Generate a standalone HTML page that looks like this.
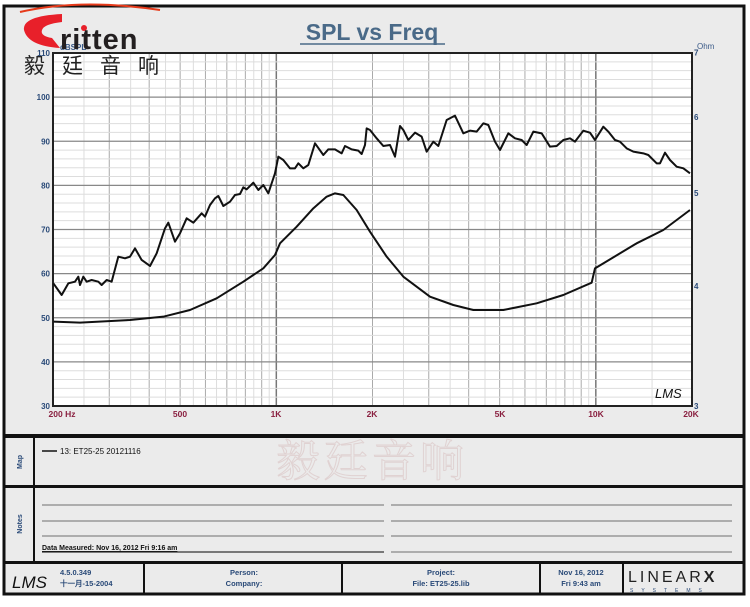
<!DOCTYPE html>
<html><head><meta charset="utf-8"><style>
body{margin:0;width:750px;height:602px;background:#fff;overflow:hidden;font-family:"Liberation Sans",sans-serif}
</style></head><body>
<svg id="s" width="750" height="602" xmlns="http://www.w3.org/2000/svg" font-family="Liberation Sans, sans-serif">
<rect x="0" y="0" width="750" height="602" fill="#fff"/>
<rect x="4" y="6" width="740" height="588" fill="#ebebeb" stroke="#111" stroke-width="3"/>
<rect x="53" y="53" width="639" height="353" fill="#fff"/>
<g id="grid"></g>
<rect x="53" y="53" width="639" height="353" fill="none" stroke="#222" stroke-width="2"/>
<text x="372" y="40" font-size="23" font-weight="bold" fill="#4a6a88" text-anchor="middle">SPL vs Freq</text>
<line x1="300" y1="44" x2="445" y2="44" stroke="#4a6a88" stroke-width="1.5"/>
<text x="697" y="49" font-size="8" fill="#3a5a88">Ohm</text>
<text x="60" y="50" font-size="8" fill="#3a5a88" font-weight="bold">dBSPL</text>
<g id="ylab" font-size="8" font-weight="bold" fill="#2a4a78" text-anchor="end"></g>
<g id="rlab" font-size="8" font-weight="bold" fill="#2a4a78"></g>
<g font-size="8.5" font-weight="bold" fill="#8a2040" text-anchor="middle">
<text x="62" y="417">200 Hz</text><text x="180" y="417">500</text><text x="276" y="417">1K</text><text x="372" y="417">2K</text><text x="500" y="417">5K</text><text x="596" y="417">10K</text><text x="691" y="417">20K</text></g>
<text x="655" y="398" font-size="13" font-style="italic" fill="#111">LMS</text>
<g transform="translate(30,100) scale(0.33333)" fill="none" stroke="#111" stroke-width="2" stroke-linejoin="round">
<polyline vector-effect="non-scaling-stroke" points="70,550 95,585 115,550 135,545 145,530 150,555 160,530 170,545 185,540 205,545 215,555 230,540 245,545 265,470 285,475 300,470 315,445 335,480 360,498 380,460 405,385 415,368 435,425 450,400 470,355 490,368 515,340 525,350 540,315 555,295 565,288 580,318 600,305 615,285 630,282 640,262 650,268 670,248 685,270 700,255 715,280 735,220 745,170 760,180 780,205 795,205 805,190 820,205 835,195 855,130 880,165 895,148 915,148 935,160 945,138 965,148 985,152 995,162 1005,135 1010,85 1020,90 1040,115 1060,138 1080,135 1095,170 1110,78 1120,90 1135,120 1155,98 1175,110 1190,155 1210,125 1225,138 1250,60 1275,47 1300,100 1320,92 1340,95 1360,70 1375,75 1395,125 1410,150 1435,100 1455,115 1475,120 1490,135 1510,95 1535,100 1560,140 1580,138 1600,120 1620,115 1635,125 1660,92 1680,98 1695,120 1720,80 1735,95 1755,120 1770,125 1790,145 1810,155 1840,160 1855,165 1880,190 1890,190 1905,158 1920,180 1940,200 1960,205 1980,220"/>
<polyline vector-effect="non-scaling-stroke" points="70,665 150,668 300,660 400,650 480,630 560,595 640,545 700,505 735,465 750,430 800,380 850,325 890,290 915,280 940,285 980,330 1020,395 1070,470 1120,530 1200,590 1270,615 1330,630 1420,630 1520,610 1600,585 1685,548 1695,505 1720,490 1820,430 1900,390 1980,330"/>
</g>
<!-- logo -->
<path d="M20 12 Q80 -2 160 10" stroke="#e63a1a" stroke-width="2" fill="none"/>
<path d="M62 14 Q22 16 24 30 Q28 46 60 48 L52 38 Q40 36 42 30 Q44 24 62 22 Z" fill="#e8202a"/>
<circle cx="84" cy="28" r="3" fill="#e8202a"/>
<text x="60" y="49" font-size="29" font-weight="bold" fill="#231f20" letter-spacing="1">ritten</text>
<text x="24" y="73" font-size="21" fill="#222" font-family="Noto Sans CJK SC, sans-serif" letter-spacing="17">毅廷音响</text>
<!-- bottom sections -->
<rect x="4" y="434" width="740" height="4" fill="#111"/>
<rect x="4" y="485" width="740" height="3" fill="#111"/>
<rect x="4" y="561" width="740" height="3" fill="#111"/>
<line x1="34" y1="436" x2="34" y2="562" stroke="#111" stroke-width="2"/>
<text transform="translate(22,462) rotate(-90)" font-size="7" font-weight="bold" fill="#2a4a78" text-anchor="middle">Map</text>
<text transform="translate(22,524) rotate(-90)" font-size="7" font-weight="bold" fill="#2a4a78" text-anchor="middle">Notes</text>
<line x1="42" y1="451" x2="57" y2="451" stroke="#111" stroke-width="1.5"/>
<text x="60" y="454" font-size="8" fill="#111">13: ET25-25 20121116</text>
<text x="372" y="476" font-size="44" fill="none" stroke="#e0d2d2" stroke-width="1" text-anchor="middle" font-family="Noto Serif CJK SC, serif" letter-spacing="4">毅廷音响</text>
<g stroke="#888" stroke-width="1.2">
<line x1="42" y1="505" x2="384" y2="505"/><line x1="391" y1="505" x2="732" y2="505"/>
<line x1="42" y1="521" x2="384" y2="521"/><line x1="391" y1="521" x2="732" y2="521"/>
<line x1="42" y1="536" x2="384" y2="536"/><line x1="391" y1="536" x2="732" y2="536"/>
<line x1="42" y1="552" x2="384" y2="552" stroke="#333"/><line x1="391" y1="552" x2="732" y2="552"/></g>
<text x="42" y="550" font-size="7" font-weight="bold" fill="#111" text-decoration="underline">Data Measured: Nov 16, 2012  Fri  9:16 am</text>
<g stroke="#111" stroke-width="2"><line x1="144" y1="563" x2="144" y2="594"/><line x1="342" y1="563" x2="342" y2="594"/><line x1="540" y1="563" x2="540" y2="594"/><line x1="623" y1="563" x2="623" y2="594"/></g>
<text x="12" y="588" font-size="17" font-style="italic" fill="#111">LMS</text>
<g font-size="7.5" font-weight="bold" fill="#2a4a78">
<text x="60" y="575">4.5.0.349</text><text x="60" y="586">十一月-15-2004</text>
<text x="244" y="575" text-anchor="middle">Person:</text><text x="244" y="586" text-anchor="middle">Company:</text>
<text x="441" y="575" text-anchor="middle">Project:</text><text x="441" y="586" text-anchor="middle">File: ET25-25.lib</text>
<text x="581" y="575" text-anchor="middle">Nov 16, 2012</text><text x="581" y="586" text-anchor="middle">Fri  9:43 am</text></g>
<text x="628" y="582" font-size="16" fill="#222" letter-spacing="3">LINEAR<tspan font-weight="bold">X</tspan></text>
<text x="630" y="592" font-size="5" fill="#2a4a78" letter-spacing="8">SYSTEMS</text>
</svg>
<script>
var ns="http://www.w3.org/2000/svg",g=document.getElementById('grid');
function L(x1,y1,x2,y2,c,w){var l=document.createElementNS(ns,'line');l.setAttribute('x1',x1);l.setAttribute('y1',y1);l.setAttribute('x2',x2);l.setAttribute('y2',y2);l.setAttribute('stroke',c);l.setAttribute('stroke-width',w);g.appendChild(l);}
function X(f){return 53+319.5*Math.log10(f/200);}
for(var d of [100,1000,10000]){for(var m=1;m<10;m+=0.5){var f=d*m;if(f<200||f>20000)continue;var x=X(f);var c=(m%1)?'#ddd':(m==1?'#777':'#aaa');L(x,53,x,406,c,(m==1)?1.5:1);}}
for(var v=30;v<=110;v+=2){var y=406-(v-30)*4.4125;L(53,y,692,y,v%10?'#ddd':'#888',v%10?1:1.3);}
var yl=document.getElementById('ylab');
for(var v=30;v<=110;v+=10){var t=document.createElementNS(ns,'text');t.setAttribute('x',50);t.setAttribute('y',406-(v-30)*4.4125+3);t.textContent=v;yl.appendChild(t);}
var rl=document.getElementById('rlab');
for(var z=3;z<=7;z++){var t=document.createElementNS(ns,'text');t.setAttribute('x',694);t.setAttribute('y',406-960*Math.log10(z/3)+3);t.textContent=z;rl.appendChild(t);}
</script>
</body></html>
